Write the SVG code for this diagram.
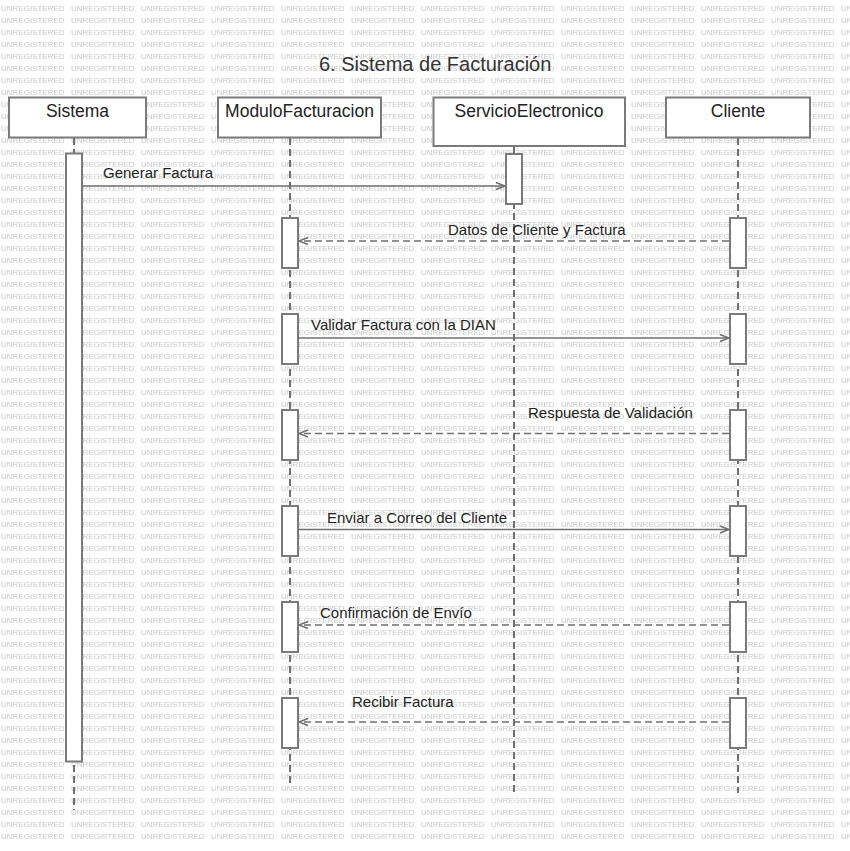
<svg xmlns="http://www.w3.org/2000/svg" width="850" height="851" viewBox="0 0 850 851">
  <defs>
    <pattern id="wm" x="0" y="0" width="70" height="12" patternUnits="userSpaceOnUse">
      <text x="1" y="10.7" class="wm">UNREGISTERED</text>
    </pattern>
    <marker id="open" viewBox="0 0 10 10" refX="10" refY="5" markerWidth="10" markerHeight="10" markerUnits="userSpaceOnUse" orient="auto">
      <path d="M1,1.5 L10,5 L1,8.5" fill="none" stroke="#6f6f6f" stroke-width="1.5"/>
    </marker>
  </defs>
  <style>
    .wm { font-family: "Liberation Sans", Arial, sans-serif; font-size: 8px; fill: #c8c8c8; }
    .box { fill: #ffffff; stroke: #7a7a7a; stroke-width: 2; }
    .act { fill: #ffffff; stroke: #7a7a7a; stroke-width: 2; }
    .life { stroke: #707070; stroke-width: 2; stroke-dasharray: 7 4; fill: none; }
    .msg { stroke: #6f6f6f; stroke-width: 1.5; fill: none; marker-end: url(#open); }
    .ret { stroke: #6f6f6f; stroke-width: 1.5; stroke-dasharray: 7 4; fill: none; marker-end: url(#open); }
    .name { font-family: "Liberation Sans", Arial, sans-serif; font-size: 17.5px; fill: #222222; text-anchor: middle; }
    .lbl { font-family: "Liberation Sans", Arial, sans-serif; font-size: 15px; fill: #222222; }
    .title { font-family: "Liberation Sans", Arial, sans-serif; font-size: 20px; fill: #333333; }
  </style>

  <rect width="850" height="851" fill="#ffffff"/>
  <rect x="0" y="0" width="850" height="845" fill="url(#wm)"/>

  <text class="title" x="319" y="71">6. Sistema de Facturación</text>

  <!-- lifelines -->
  <g id="lifelines">
    <line class="life" x1="74" y1="138" x2="74" y2="810"/>
    <line class="life" x1="290" y1="138" x2="290" y2="783"/>
    <line class="life" x1="514" y1="147" x2="514" y2="793"/>
    <line class="life" x1="738" y1="138" x2="738" y2="793"/>
  </g>

  <g id="Sistema">
    <rect class="box" x="9" y="97.5" width="137" height="40"/>
    <text class="name" x="77.5" y="117">Sistema</text>
    <rect class="act" x="66" y="153.5" width="16" height="608"/>
  </g>

  <g id="ModuloFacturacion">
    <rect class="box" x="218" y="97.5" width="163" height="40"/>
    <text class="name" x="299.5" y="117">ModuloFacturacion</text>
    <rect class="act" x="282" y="218" width="16" height="50"/>
    <rect class="act" x="282" y="314" width="16" height="50"/>
    <rect class="act" x="282" y="410" width="16" height="50"/>
    <rect class="act" x="282" y="506" width="16" height="50"/>
    <rect class="act" x="282" y="602" width="16" height="50"/>
    <rect class="act" x="282" y="698" width="16" height="50"/>
  </g>

  <g id="ServicioElectronico">
    <rect class="box" x="433.5" y="97.5" width="191.5" height="48.5"/>
    <text class="name" x="529" y="117">ServicioElectronico</text>
    <rect class="act" x="506" y="154" width="16" height="50"/>
  </g>

  <g id="Cliente">
    <rect class="box" x="666" y="97.5" width="144" height="40"/>
    <text class="name" x="738" y="117">Cliente</text>
    <rect class="act" x="730" y="218" width="16" height="50"/>
    <rect class="act" x="730" y="314" width="16" height="50"/>
    <rect class="act" x="730" y="410" width="16" height="50"/>
    <rect class="act" x="730" y="506" width="16" height="50"/>
    <rect class="act" x="730" y="602" width="16" height="50"/>
    <rect class="act" x="730" y="698" width="16" height="50"/>
  </g>

  <!-- messages -->
  <g id="connectors">
    <line class="msg" x1="82" y1="186" x2="505" y2="186"/>
    <text class="lbl" x="103" y="178">Generar Factura</text>

    <line class="ret" x1="729" y1="241" x2="299" y2="241"/>
    <text class="lbl" x="448" y="235">Datos de Cliente y Factura</text>

    <line class="msg" x1="298" y1="338" x2="729" y2="338"/>
    <text class="lbl" x="311" y="330">Validar Factura con la DIAN</text>

    <line class="ret" x1="729" y1="433.5" x2="299" y2="433.5"/>
    <text class="lbl" x="528" y="418">Respuesta de Validación</text>

    <line class="msg" x1="298" y1="529.5" x2="729" y2="529.5"/>
    <text class="lbl" x="327" y="523">Enviar a Correo del Cliente</text>

    <line class="ret" x1="729" y1="625" x2="299" y2="625"/>
    <text class="lbl" x="320" y="618">Confirmación de Envío</text>

    <line class="ret" x1="729" y1="722" x2="299" y2="722"/>
    <text class="lbl" x="352" y="707">Recibir Factura</text>
  </g>
</svg>
